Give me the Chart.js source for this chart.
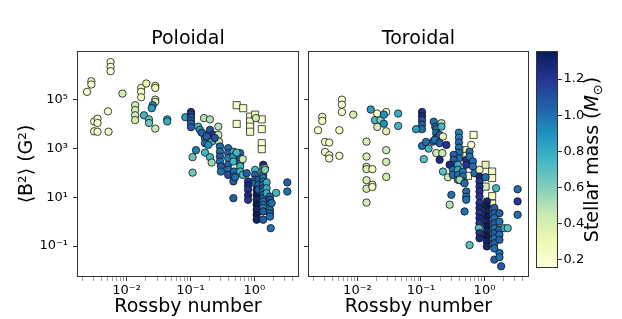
<!DOCTYPE html>
<html><head><meta charset="utf-8">
<script src="https://cdn.jsdelivr.net/npm/chart.js@4.4.1/dist/chart.umd.min.js"></script>
<style>
html,body{margin:0;padding:0;background:#fff;}
#wrap{position:relative;width:622px;height:319px;overflow:hidden;background:#fff}
canvas{position:absolute;left:0;top:0}
</style></head><body>
<div id="wrap">
<canvas id="pol" width="622" height="319"></canvas>
<canvas id="tor" width="622" height="319"></canvas>
<canvas id="cb" width="622" height="319"></canvas>
</div>
<script>
// ---------- DATA ----------
// Poloidal panel, circles
const polCircRo = [0.0056,0.0056,0.0056,0.0028,0.0028,0.0024,0.0086,0.0169,0.0169,0.0169,0.0203,0.0281,0.0281,0.0281,0.0281,0.0136,0.0136,0.0136,0.0136,0.0256,0.0248,0.0187,0.0224,0.0224,0.0281,0.0433,0.0433,0.0051,0.0031,0.0035,0.0035,0.0031,0.0035,0.0052,
 0.083,0.102,0.102,0.102,0.102,0.102,0.102,0.122,0.108,0.108,0.163,0.202,0.273,0.132,0.141,0.169,0.169,0.169,0.202,0.228,0.215,0.273,0.28,0.169,0.202,0.215,0.15,0.18,0.19,0.24,
 0.29,0.29,0.29,0.29,0.30,0.30,0.39,0.39,0.39,0.39,0.39,0.39,0.47,0.47,0.47,0.48,0.48,0.47,0.47,0.6,0.6,0.6,0.6,0.6,0.66,0.66,0.50,0.76,0.8,0.8,0.8,0.8,0.8,
 1.03,1.03,1.03,1.03,1.09,1.09,1.09,1.09,1.09,1.09,1.09,1.16,1.16,1.16,
 1.38,1.38,1.38,1.38,1.38,1.38,1.38,1.38,1.38,1.38,1.38,1.38,1.38,1.38,1.38,1.38,
 1.47,1.47,1.56,1.56,1.56,1.76,1.76,1.76,1.76,1.76,1.76,1.87,2.2,3.29,3.29,1.81,1.06,0.53];
const polCircB2 = [3.3e6,2.1e6,1.4e6,5.4e5,4.0e5,2.0e5,1.7e5,2.9e5,2.0e5,1.2e5,4.4e5,3.5e5,2.9e5,9.6e4,7.8e4,5.7e4,3.6e4,2.2e4,1.4e4,5.7e4,4.3e4,2.2e4,1.5e4,1.07e4,6.3e3,1.5e4,1.24e4,3.2e4,1.24e4,1.6e4,1.07e4,4.9e3,4.7e3,4.7e3,
 1.85e4,3.0e4,2.4e4,1.8e4,1.3e4,1.0e4,7.2e3,830,430,100,1.7e4,1.5e4,7.6e3,7.6e3,5.6e3,3.5e3,2.6e3,1.6e3,5.6e3,3.5e3,1.86e3,3.5e3,1.86e3,660,430,258,4.3e3,3.0e3,1.36e3,2.6e3,
 1170,720,455,285,180,111,1000,630,390,210,130,81,720,455,285,111,70,44,9.1,630,390,245,180,111,357,81,65,95,44,30,20,12,7.8,
 130,81,51,37,20,12.4,7.8,4.9,3.0,1.9,1.2,51,32,20,
 210,153,111,81,60,44,32,23,17,12.4,9.1,6.7,4.9,3.6,2.6,1.2,
 153,130,40,23,14.5,10.5,7.8,5.7,3.0,2.2,1.6,5.7,15,40,17,0.54,1.7e4,660];
const polCircMass = [0.18,0.18,0.18,0.2,0.2,0.22,0.42,0.22,0.22,0.2,0.3,0.3,0.3,0.38,0.38,0.42,0.42,0.42,0.42,0.95,0.85,0.75,0.65,0.65,0.45,0.8,0.8,0.2,0.2,0.2,0.2,0.2,0.2,0.2,
 0.85,1.2,1.15,1.1,1.05,1.0,1.05,0.95,0.65,0.65,0.5,0.5,0.5,0.75,0.85,0.95,0.95,1.0,1.1,1.2,0.7,0.45,0.45,0.75,0.75,0.55,1.05,1.05,0.9,1.1,
 1.0,1.0,1.05,1.0,1.05,1.0,1.0,1.05,0.95,1.05,1.0,1.1,0.8,0.85,0.75,1.0,1.0,1.05,1.05,1.0,1.05,1.0,0.75,0.75,0.45,0.75,1.0,1.05,1.2,1.25,1.2,1.25,1.2,
 0.75,1.05,1.05,1.0,1.3,1.35,1.3,1.35,1.3,1.35,1.3,1.05,1.05,1.05,
 1.25,0.75,0.7,1.0,0.95,1.0,1.0,1.05,1.0,1.0,1.05,1.0,1.0,0.95,1.05,1.05,
 0.55,0.6,0.8,0.8,0.8,1.0,1.05,1.0,1.0,1.05,1.0,1.0,0.75,1.05,1.0,1.0,0.45,0.75];
// Poloidal panel, squares
const polSqRo   = [0.53,0.67,0.53,0.86,0.86,0.86,0.86,1.03,1.31,1.31,1.31,1.31];
const polSqB2   = [5.7e4,4.3e4,9.8e3,1.95e4,1.24e4,7.6e3,4.7e3,2.35e4,1.5e4,6.0e3,1.6e3,910];
const polSqMass = [0.2,0.2,0.22,0.25,0.25,0.22,0.22,0.25,0.2,0.2,0.2,0.2];

// Toroidal panel, circles
const torCircRo = [0.0057,0.0057,0.0057,0.0028,0.0028,0.0024,0.0052,0.0086,0.0031,0.0036,0.0031,0.0036,0.0036,0.0052,0.0139,0.0139,0.0139,0.0139,0.0172,0.0139,0.0139,0.0172,0.0172,0.0139,0.0284,0.0284,0.0284,0.0162,0.0205,0.0284,0.0189,0.0232,0.0261,0.0261,0.0205,0.0284,0.0438,0.0438,
 0.104,0.104,0.104,0.104,0.104,0.0838,0.104,0.12,0.111,0.132,0.159,0.168,0.174,0.174,0.174,0.21,0.21,0.197,0.222,0.155,0.165,0.197,0.251,0.174,0.217,0.197,
 0.396,0.396,0.396,0.396,0.396,0.396,0.327,0.327,0.339,0.339,0.283,0.222,0.266,0.318,0.318,0.382,0.382,0.382,0.382,0.457,0.457,0.457,0.406,0.516,0.516,0.582,0.582,0.619,0.656,0.656,0.697,0.835,
 0.835,0.835,0.835,0.835,0.835,0.835,0.835,0.835,0.835,0.835,0.814,0.835,0.835,
 1.04,1.52,3.32,3.32,3.32,0.301,0.283,0.486,0.516,0.516,0.516,0.486,0.582,
 1.09,1.09,1.09,1.09,1.09,1.09,1.09,1.09,1.09,1.09,1.43,1.43,1.43,1.43,1.43,1.43,1.43,1.43,1.43,1.72,1.72,1.72,1.72,1.72,2.06,2.32,1.43,1.72,1.72,1.83];
const torCircB2 = [9.6e4,6.0e4,3.0e4,1.9e4,1.3e4,5.4e3,5.4e3,2.35e4,1.8e3,1.7e3,700,515,380,490,1860,455,173,139,139,49,22,32,26,6.0,830,275,67,3.8e4,2.6e4,3.0e4,1.4e4,1.4e4,2.35e4,1.0e4,7.4e3,4.9e3,2.6e4,8.1e3,
 3.0e4,2.1e4,1.4e4,9.2e3,6.0e3,6.0e3,1240,1800,357,960,1.2e4,7.4e3,6.0e3,4.1e3,2.6e3,1.05e4,7.6e3,3.5e3,3.0e3,1860,2200,1600,1360,630,630,333,
 4300,2700,1700,1050,660,390,535,333,210,130,210,111,65,130,81,210,130,81,51,111,69,44,51,333,210,720,455,1360,285,180,95,130,
 69,44,27,17,10.5,5.7,3.6,2.2,1.4,0.87,0.54,0.34,0.21,
 65,23,21,6.7,1.9,12.4,4.9,2.6,17,10.5,7.8,37,0.11,
 6.7,4.2,2.6,1.6,1.0,0.63,0.40,0.25,0.155,0.097,3.6,2.2,1.4,0.87,0.54,0.34,0.21,0.13,0.08,2.2,1.0,0.47,0.29,0.18,0.54,0.54,0.028,0.052,0.035,0.015];
const torCircMass = [0.18,0.18,0.18,0.22,0.22,0.22,0.2,0.4,0.2,0.2,0.2,0.2,0.2,0.2,0.4,0.4,0.4,0.4,0.25,0.4,0.4,0.25,0.25,0.4,0.42,0.42,0.42,0.85,0.25,0.3,0.75,0.6,0.9,0.9,0.42,0.35,0.8,0.75,
 1.2,1.25,1.1,1.05,1.0,0.85,1.0,1.0,0.7,0.75,1.0,1.0,1.0,1.0,1.05,0.5,0.75,1.05,0.3,1.05,1.0,1.05,1.2,0.45,0.45,1.25,
 0.95,0.95,1.0,1.0,1.0,1.0,1.05,1.05,1.05,1.05,1.25,0.7,0.45,1.0,1.0,0.8,0.8,1.0,0.9,1.0,1.0,1.0,0.55,1.2,1.2,1.0,1.0,0.2,1.0,1.0,1.0,0.25,
 1.25,1.2,1.25,1.2,1.2,1.2,1.25,1.2,1.25,1.2,0.7,1.2,1.25,
 1.0,0.75,1.0,1.2,1.0,1.0,0.5,1.0,1.0,1.0,1.0,1.0,0.7,
 1.3,1.35,1.3,1.35,1.3,1.35,1.3,1.35,1.3,1.3,1.05,1.05,1.0,1.05,1.0,1.05,1.0,1.05,1.0,1.05,1.0,1.05,1.0,1.05,0.75,0.7,1.05,1.0,1.0,1.05];
// Toroidal panel, squares
const torSqRo   = [0.673,0.52,0.52,0.55,1.04,1.32,1.32,1.04,1.32,1.32];
const torSqB2   = [3500,830,480,74,210,111,60,27,11,5.4];
const torSqMass = [0.2,0.22,0.22,0.22,0.35,0.25,0.25,0.4,0.25,0.25];

// Axes
const xRange = [0.00173, 4.84];
const yRange = [0.006, 8.5e6];
const xMajorTicks  = [0.01, 0.1, 1];
const xMajorLabels = ['10\u207B\u00B2', '10\u207B\u00B9', '10\u2070'];
const xMinorTicks  = [0.002,0.003,0.004,0.005,0.006,0.007,0.008,0.009,0.02,0.03,0.04,0.05,0.06,0.07,0.08,0.09,0.2,0.3,0.4,0.5,0.6,0.7,0.8,0.9,2,3,4];
const yMajorTicks  = [0.1, 10, 1000, 1e5];
const yMajorLabels = ['10\u207B\u00B9', '10\u00B9', '10\u00B3', '10\u2075'];
const cbRange = [0.16, 1.35];
const cbTicks = [0.2, 0.4, 0.6, 0.8, 1.0, 1.2];

// ---------- STYLE ----------
const FONT = "'DejaVu Sans', sans-serif";
const YLGNBU = ['#ffffd9','#edf8b1','#c7e9b4','#7fcdbb','#41b6c4','#1d91c0','#225ea8','#253494','#081d58'];
function hex(h){return [parseInt(h.substr(1,2),16),parseInt(h.substr(3,2),16),parseInt(h.substr(5,2),16)];}
function cmapT(t){
  t = Math.max(0, Math.min(1, t));
  const p = t * (YLGNBU.length - 1);
  const i = Math.min(YLGNBU.length - 2, Math.floor(p));
  const f = p - i;
  const a = hex(YLGNBU[i]), b = hex(YLGNBU[i+1]);
  return 'rgb(' + a.map((v,k)=>Math.round(v + (b[k]-v)*f)).join(',') + ')';
}
function massColor(m){ return cmapT((m - cbRange[0]) / (cbRange[1] - cbRange[0])); }
function near(a,b){ return Math.abs(Math.log10(a) - Math.log10(b)) < 1e-6; }
function labelFrom(vals, labels, v){ for (let i=0;i<vals.length;i++) if (near(vals[i], v)) return labels[i]; return ''; }
function isXMajor(v){ return xMajorTicks.some(t=>near(t,v)); }

const framePlugin = {
  id: 'frame',
  afterDraw(chart){
    const a = chart.chartArea, ctx = chart.ctx;
    ctx.save();
    ctx.strokeStyle = '#333';
    ctx.lineWidth = 1;
    ctx.strokeRect(Math.round(a.left)-0.5, Math.round(a.top)-0.5, Math.round(a.right-a.left)+1, Math.round(a.bottom-a.top)+1);
    ctx.restore();
  }
};

function pts(ro, b2){ return ro.map((r,i)=>({x:r, y:b2[i]})); }

function makePanel(id, title, cRo, cB, cM, sRo, sB, sM, yWidth, padRight, showY){
  return new Chart(document.getElementById(id), {
    type: 'scatter',
    data: { datasets: [
      { data: pts(cRo, cB), backgroundColor: cM.map(massColor), borderColor: '#111', borderWidth: 0.8, pointRadius: 3.7, pointStyle: 'circle' },
      { data: pts(sRo, sB), backgroundColor: sM.map(massColor), borderColor: '#222', borderWidth: 0.8, pointRadius: 5, pointStyle: 'rect' }
    ]},
    options: {
      responsive: false, animation: false, devicePixelRatio: 1,
      layout: { padding: { left: 0, right: padRight, top: 28, bottom: 0 } },
      plugins: {
        legend: { display: false }, tooltip: { enabled: false },
        title: { display: true, text: title, fullSize: false, color: '#000',
                 font: { family: FONT, size: 19, weight: 'normal' }, padding: { top: 0, bottom: 1.2 } }
      },
      scales: {
        x: {
          type: 'logarithmic', position: 'bottom', min: xRange[0], max: xRange[1], bounds: 'data',
          afterBuildTicks: s => { s.ticks = xMajorTicks.concat(xMinorTicks).sort((a,b)=>a-b).map(v=>({value:v})); },
          afterFit: s => { s.height = 43; },
          ticks: { autoSkip: false, maxRotation: 0, minRotation: 0, padding: 1.5, color: '#000',
                   font: { family: FONT, size: 13 }, callback: v => labelFrom(xMajorTicks, xMajorLabels, v) },
          grid: { drawOnChartArea: false, tickLength: 5,
                  tickColor: c => (c.tick && isXMajor(c.tick.value)) ? '#333' : '#777',
                  tickWidth: c => (c.tick && isXMajor(c.tick.value)) ? 1 : 0.7 },
          border: { display: false },
          title: { display: true, text: 'Rossby number', color: '#000',
                   font: { family: FONT, size: 19 }, padding: { top: 0, bottom: 0.5 } }
        },
        y: {
          type: 'logarithmic', position: 'left', min: yRange[0], max: yRange[1], bounds: 'data',
          afterBuildTicks: s => { s.ticks = yMajorTicks.map(v=>({value:v})); },
          afterFit: s => { s.width = yWidth; },
          ticks: { autoSkip: false, padding: 5, color: '#000', font: { family: FONT, size: 13 },
                   callback: v => showY ? labelFrom(yMajorTicks, yMajorLabels, v) : '' },
          grid: { drawOnChartArea: false, tickLength: 5, tickColor: '#333' },
          border: { display: false },
          title: { display: showY, text: '\u27E8B\u00B2\u27E9 (G\u00B2)', color: '#000',
                   font: { family: FONT, size: 19 }, padding: { top: 16, bottom: 0 } }
        }
      }
    },
    plugins: [framePlugin]
  });
}

makePanel('pol', 'Poloidal', polCircRo, polCircB2, polCircMass, polSqRo, polSqB2, polSqMass, 78, 622-298, true);
makePanel('tor', 'Toroidal', torCircRo, torCircB2, torCircMass, torSqRo, torSqB2, torSqMass, 309, 622-528, false);

// Colorbar label: "Stellar mass (M⊙)" with italic M and subscript ⊙, rotated
const cbLabelPlugin = {
  id: 'cbLabel',
  afterDraw(chart){
    const a = chart.chartArea, ctx = chart.ctx;
    const parts = [
      { t: 'Stellar mass (', f: "19px " + FONT, dy: 0 },
      { t: 'M', f: "italic 19px " + FONT, dy: 0 },
      { t: '\u2299', f: "13px " + FONT, dy: 4 },
      { t: ')', f: "19px " + FONT, dy: 0 }
    ];
    ctx.save();
    let total = 0;
    parts.forEach(p => { ctx.font = p.f; p.w = ctx.measureText(p.t).width; total += p.w; });
    ctx.translate(591, (a.top + a.bottom) / 2);
    ctx.rotate(-Math.PI/2);
    ctx.fillStyle = '#000';
    ctx.textAlign = 'left';
    ctx.textBaseline = 'alphabetic';
    let x = -total / 2;
    parts.forEach(p => { ctx.font = p.f; ctx.fillText(p.t, x, 6.5 + p.dy); x += p.w; });
    ctx.restore();
  }
};
new Chart(document.getElementById('cb'), {
  type: 'bar',
  data: { labels: [''], datasets: [{
    data: [[cbRange[0], cbRange[1]]],
    backgroundColor: c => {
      const ch = c.chart, area = ch.chartArea;
      if (!area) return '#888';
      const y = ch.scales.y;
      const g = ch.ctx.createLinearGradient(0, y.getPixelForValue(cbRange[0]), 0, y.getPixelForValue(cbRange[1]));
      for (let i=0;i<=40;i++) g.addColorStop(i/40, cmapT(i/40));
      return g;
    },
    borderWidth: 0, barPercentage: 1, categoryPercentage: 1
  }]},
  options: {
    responsive: false, animation: false, devicePixelRatio: 1,
    layout: { padding: { left: 537, right: 0, top: 52, bottom: 52 } },
    plugins: { legend: { display: false }, tooltip: { enabled: false } },
    scales: {
      x: { display: false },
      y: { position: 'right', min: cbRange[0], max: cbRange[1],
           afterBuildTicks: s => { s.ticks = cbTicks.map(v=>({value:v})); },
           afterFit: s => { s.width = 65; },
           ticks: { padding: 1.5, color: '#000', font: { family: FONT, size: 13 }, callback: v => Number(v).toFixed(1) },
           grid: { drawOnChartArea: false, tickLength: 5, tickColor: '#333' },
           border: { display: false } }
    }
  },
  plugins: [framePlugin, cbLabelPlugin]
});
</script>
</body></html>
